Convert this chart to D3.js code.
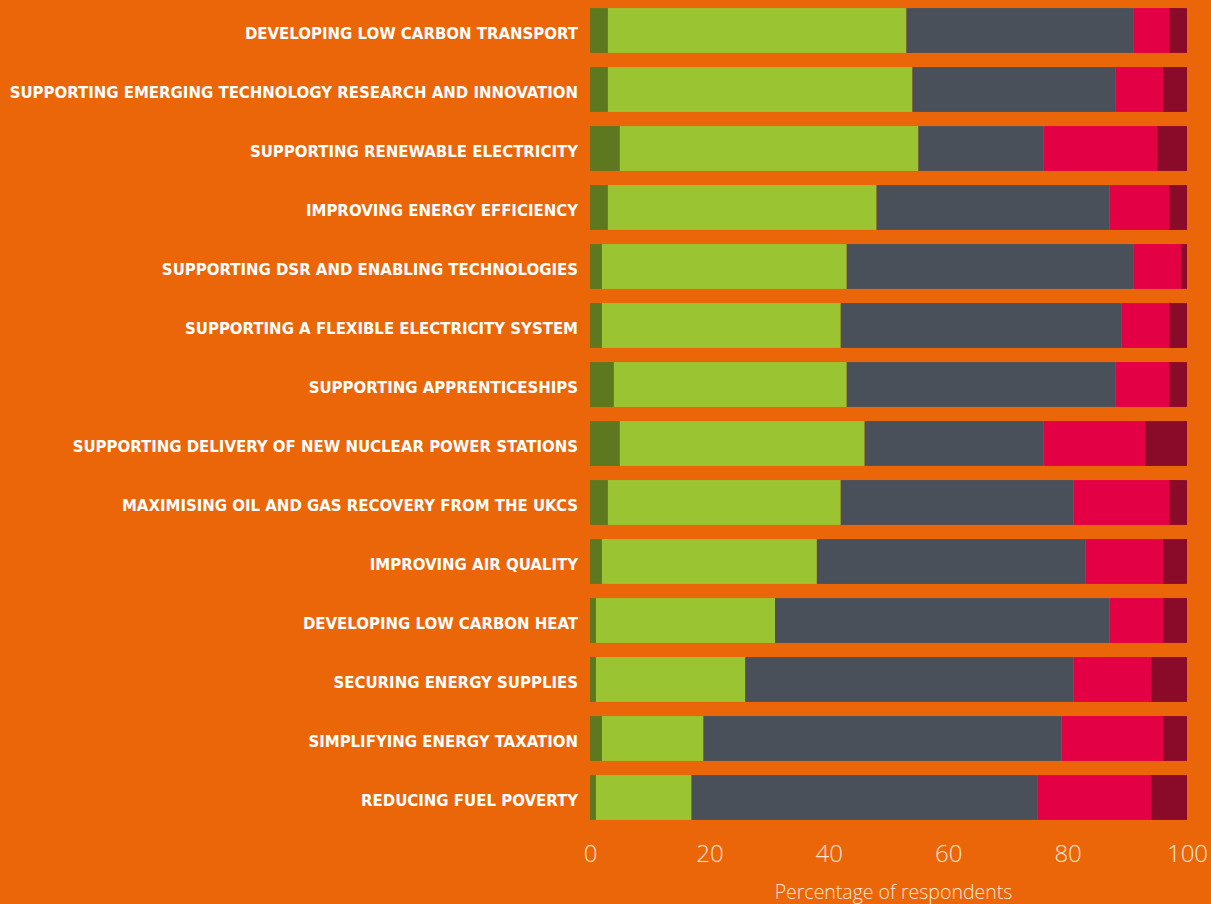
<!DOCTYPE html>
<html>

<head>
  <title>Priorities</title>
  <meta charset="utf-8">
  <script src="https://d3js.org/d3.v7.min.js"></script>
  <style>
    body {
      margin: 0;
      background: #EB6608;
    }
    .cat {
      fill: #fff;
      font-family: "DejaVu Sans Condensed", "Liberation Sans Narrow", sans-serif;
      font-stretch: condensed;
      font-weight: bold;
      font-size: 16px;
    }
    .axis text {
      fill: #FBE6D6;
      font-family: "Open Sans", sans-serif;
      font-weight: 300;
      font-size: 24px;
    }
    .axis-title {
      fill: #FBE6D6;
      font-family: "Open Sans", sans-serif;
      font-weight: 300;
      font-size: 19.5px;
    }
  </style>
</head>

<body>
  <svg width="1211" height="904"></svg>
  <script>
    const categories = [
      "DEVELOPING LOW CARBON TRANSPORT",
      "SUPPORTING EMERGING TECHNOLOGY RESEARCH AND INNOVATION",
      "SUPPORTING RENEWABLE ELECTRICITY",
      "IMPROVING ENERGY EFFICIENCY",
      "SUPPORTING DSR AND ENABLING TECHNOLOGIES",
      "SUPPORTING A FLEXIBLE ELECTRICITY SYSTEM ",
      "SUPPORTING APPRENTICESHIPS",
      "SUPPORTING DELIVERY OF NEW NUCLEAR POWER STATIONS",
      "MAXIMISING OIL AND GAS RECOVERY FROM THE UKCS",
      "IMPROVING AIR QUALITY",
      "DEVELOPING LOW CARBON HEAT",
      "SECURING ENERGY SUPPLIES",
      "SIMPLIFYING ENERGY TAXATION",
      "REDUCING FUEL POVERTY"
    ];

    // five response groups, left to right
    const series1 = [3, 3, 5, 3, 2, 2, 4, 5, 3, 2, 1, 1, 2, 1];
    const series2 = [50, 51, 50, 45, 41, 40, 39, 41, 39, 36, 30, 25, 17, 16];
    const series3 = [38, 34, 21, 39, 48, 47, 45, 30, 39, 45, 56, 55, 60, 58];
    const series4 = [6, 8, 19, 10, 8, 8, 9, 17, 16, 13, 9, 13, 17, 19];
    const series5 = [3, 4, 5, 3, 1, 3, 3, 7, 3, 4, 4, 6, 4, 6];

    const seriesColors = ["#5E781F", "#9BC433", "#4A5059", "#E30045", "#8A0A2A"];
    const xTicks = [0, 20, 40, 60, 80, 100];

    const svg = d3.select("svg");
    const allSeries = [series1, series2, series3, series4, series5];
    const keys = allSeries.map((s, i) => "s" + i);
    const rows = categories.map((c, i) => {
      const r = { cat: c };
      allSeries.forEach((s, j) => r[keys[j]] = s[i]);
      return r;
    });

    const x = d3.scaleLinear().domain([0, 100]).range([590, 1187]);
    const y = d3.scaleBand().domain(categories).range([1, 827])
      .paddingInner(0.24).paddingOuter(0.12);

    const stack = d3.stack().keys(keys)(rows);

    svg.append("g")
      .selectAll("g")
      .data(stack)
      .join("g")
      .attr("fill", (d, i) => seriesColors[i])
      .selectAll("rect")
      .data(d => d)
      .join("rect")
      .attr("x", d => x(d[0]))
      .attr("width", d => x(d[1]) - x(d[0]))
      .attr("y", d => y(d.data.cat))
      .attr("height", y.bandwidth());

    const labels = svg.append("g")
      .selectAll("text")
      .data(categories)
      .join("text")
      .attr("class", "cat")
      .attr("x", 578)
      .attr("y", d => y(d) + y.bandwidth() / 2)
      .attr("dy", "0.5em")
      .attr("text-anchor", "end")
      .text(d => d);

    // size the labels so the longest one fills the left margin
    const widest = d3.max(labels.nodes(), n => n.getComputedTextLength());
    labels.style("font-size", (16 * 569 / widest) + "px");

    const axis = svg.append("g")
      .attr("class", "axis")
      .attr("transform", "translate(0,840)")
      .call(d3.axisBottom(x).tickValues(xTicks).tickSize(0).tickPadding(0));
    axis.select(".domain").remove();
    axis.selectAll("text").attr("dy", "0.9em");

    svg.append("text")
      .attr("class", "axis-title")
      .attr("x", (x(0) + x(100)) / 2 + 5)
      .attr("y", 899)
      .attr("text-anchor", "middle")
      .text("Percentage of respondents");
  </script>
</body>

</html>
